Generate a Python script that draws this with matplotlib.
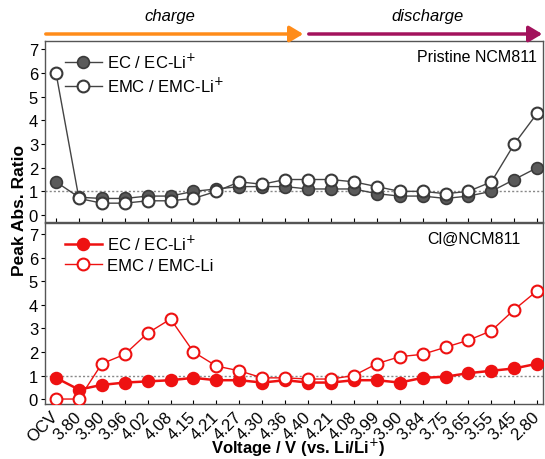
import matplotlib
matplotlib.use("Agg")
import matplotlib.pyplot as plt
import numpy as np

plt.rcParams['font.family'] = ['Liberation Sans', 'DejaVu Sans']

voltages = ['OCV', '3.80', '3.90', '3.96', '4.02', '4.08', '4.15', '4.21', '4.27', '4.30', '4.36',
            '4.40', '4.21', '4.08', '3.99', '3.90', '3.84', '3.75', '3.65', '3.55', '3.45', '2.80']

# pristine cathode
pristine_ec = [1.4, 0.75, 0.7, 0.7, 0.8, 0.8, 1.0, 1.1, 1.2, 1.2, 1.2,
               1.1, 1.1, 1.1, 0.9, 0.8, 0.8, 0.7, 0.8, 1.0, 1.5, 2.0]
pristine_emc = [6.0, 0.7, 0.5, 0.5, 0.6, 0.6, 0.7, 1.0, 1.4, 1.3, 1.5,
                1.5, 1.5, 1.4, 1.2, 1.0, 1.0, 0.9, 1.0, 1.4, 3.0, 4.3]

# Cl-coated cathode
cl_ec = [0.9, 0.4, 0.6, 0.7, 0.75, 0.8, 0.9, 0.8, 0.8, 0.7, 0.8,
         0.7, 0.7, 0.8, 0.8, 0.7, 0.9, 0.95, 1.1, 1.2, 1.3, 1.5]
cl_emc = [0.0, 0.0, 1.5, 1.9, 2.8, 3.4, 2.0, 1.4, 1.2, 0.9, 0.9,
          0.85, 0.85, 1.0, 1.5, 1.8, 1.9, 2.2, 2.5, 2.9, 3.8, 4.6]

x = np.arange(len(voltages))

fig = plt.figure(figsize=(5.45, 4.6), dpi=100)
ax1 = fig.add_axes([0.0826, 0.515, 0.914, 0.393])
ax2 = fig.add_axes([0.0826, 0.1196, 0.914, 0.393])

grey = '#5a5a5a'
red = '#ee1111'
ms = 8.5

ax1.plot(x, pristine_ec, '-o', color='#444444', lw=1.0, ms=ms, mfc=grey, mec='#3a3a3a', mew=1.2,
         label='EC / EC-Li$^{+}$', zorder=3)
ax1.plot(x, pristine_emc, '-o', color='#444444', lw=1.0, ms=ms, mfc='white', mec='#3a3a3a', mew=1.5,
         label='EMC / EMC-Li$^{+}$', zorder=4)

ax2.plot(x, cl_ec, '-o', color=red, lw=1.8, ms=ms, mfc=red, mec=red, mew=1.2,
         label='EC / EC-Li$^{+}$', zorder=3)
ax2.plot(x, cl_emc, '-o', color=red, lw=1.0, ms=ms, mfc='white', mec=red, mew=1.5,
         label='EMC / EMC-Li', zorder=4)

for ax, lim in ((ax1, (-0.3, 7.34)), (ax2, (-0.21, 7.47))):
    ax.axhline(1, color='#888888', lw=1.0, ls=(0, (1.5, 1.5)), zorder=1)
    ax.set_xlim(-0.48, 21.26)
    ax.set_ylim(*lim)
    ax.set_yticks(range(0, 8))
    ax.set_xticks(x)
    ax.tick_params(axis='y', direction='out', length=3, labelsize=12, pad=2)
    ax.tick_params(axis='x', direction='in', length=3)
    for s in ax.spines.values():
        s.set_color('#555555')
        s.set_linewidth(1.0)
    ax.legend(loc='upper left', frameon=False, fontsize=12, handlelength=2.2,
              handletextpad=0.3, borderaxespad=0.2, labelspacing=0.3,
              bbox_to_anchor=(0.02, 1.0))

ax1.set_xticklabels([])
ax2.set_xticklabels(voltages, rotation=45, ha='right', va='center',
                    rotation_mode='anchor', fontsize=12)
ax2.tick_params(axis='x', pad=7)

ax1.text(0.988, 0.955, 'Pristine NCM811', transform=ax1.transAxes, ha='right', va='top', fontsize=11.5)
ax2.text(0.955, 0.955, 'Cl@NCM811', transform=ax2.transAxes, ha='right', va='top', fontsize=11.5)

fig.text(298 / 545, 1 - 448 / 460, 'Voltage / V (vs. Li/Li$^{+}$)', ha='center', va='center',
         fontsize=12, fontweight='bold')
fig.text(0.035, 1 - 210 / 460, 'Peak Abs. Ratio', rotation=90, ha='center', va='center',
         fontsize=12.5, fontweight='bold')

# charge / discharge arrows above the panels
y_arr = 1 - 35 / 460
fig.add_artist(matplotlib.patches.FancyArrowPatch(
    (43 / 545, y_arr), (306 / 545, y_arr), transform=fig.transFigure,
    arrowstyle='-|>,head_length=5,head_width=3', color='#ff8c1a', lw=2.5, mutation_scale=1.6))
fig.add_artist(matplotlib.patches.FancyArrowPatch(
    (306 / 545, y_arr), (545 / 545, y_arr), transform=fig.transFigure,
    arrowstyle='-|>,head_length=5,head_width=3', color='#a3125c', lw=2.5, mutation_scale=1.6))
fig.text(170 / 545, 1 - 16 / 460, 'charge', ha='center', va='center', fontsize=12, style='italic')
fig.text(428 / 545, 1 - 16 / 460, 'discharge', ha='center', va='center', fontsize=12, style='italic')

fig.savefig('out.png', dpi=100)
